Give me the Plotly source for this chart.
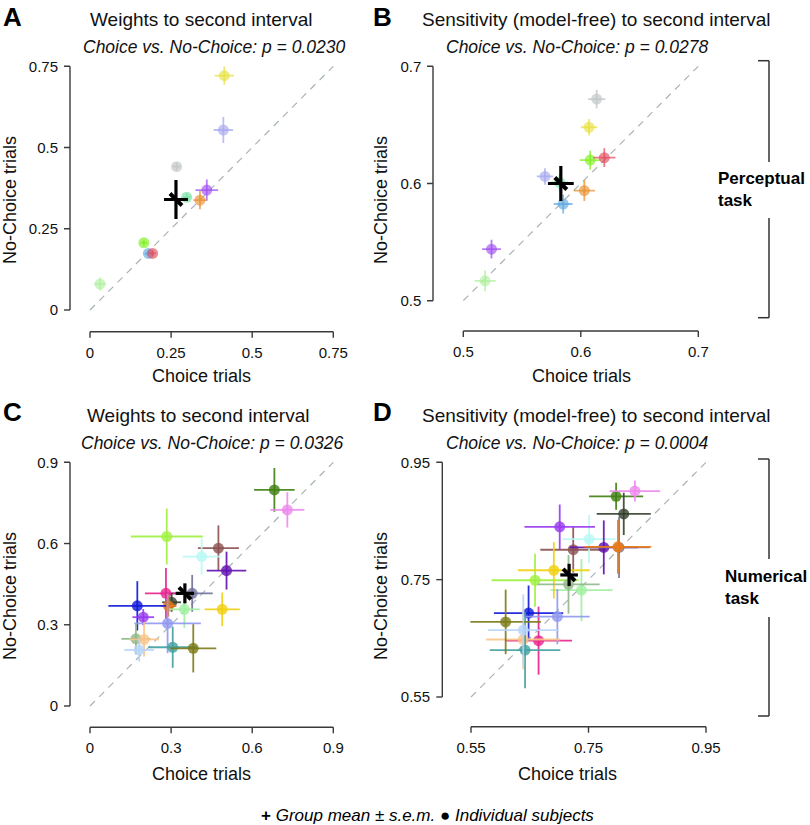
import plotly.graph_objects as go

W, H = 810, 825

# ---------------- DATA ----------------
# Perceptual task subjects (panels A and B)
perc_colors = ["#e8e040", "#a8a8f0", "#c0c4c4", "#70e0a0", "#a050f0",
               "#e89030", "#80f020", "#60a8e0", "#e05060", "#b0f0a0"]

a_choice = [0.414, 0.411, 0.267, 0.298, 0.360, 0.339, 0.166, 0.180, 0.193, 0.031]
a_nochoice = [0.721, 0.554, 0.441, 0.347, 0.369, 0.338, 0.207, 0.174, 0.174, 0.080]
a_choice_err = [0.030, 0.030, 0.012, 0.012, 0.035, 0.020, 0.010, 0.010, 0.010, 0.018]
a_nochoice_err = [0.028, 0.040, 0.012, 0.012, 0.033, 0.028, 0.010, 0.010, 0.010, 0.020]
a_mean = (0.265, 0.340)
a_mean_err = (0.037, 0.060)

b_choice = [0.607, 0.5695, 0.6135, 0.582, 0.524, 0.603, 0.608, 0.585, 0.620, 0.5185]
b_nochoice = [0.648, 0.606, 0.672, 0.601, 0.544, 0.594, 0.620, 0.5825, 0.622, 0.517]
b_choice_err = [0.007, 0.007, 0.0075, 0.007, 0.008, 0.009, 0.009, 0.008, 0.0095, 0.009]
b_nochoice_err = [0.007, 0.007, 0.008, 0.007, 0.008, 0.009, 0.008, 0.008, 0.008, 0.009]
b_mean = (0.583, 0.600)
b_mean_err = (0.011, 0.015)

# Numerical task subjects (panels C and D)
num_colors = ["#3f7f10", "#ee88ee", "#a0f040", "#8b5050", "#b8f8f4",
              "#6010b0", "#707098", "#e8208c", "#34402c", "#f07a10",
              "#1018d8", "#a0f0a0", "#f0d010", "#9838f0", "#9098f0",
              "#90b888", "#f8c488", "#40a0a0", "#7a7a18", "#b8d4f8"]

c_choice = [0.682, 0.730, 0.284, 0.475, 0.413, 0.505, 0.378, 0.281, 0.302, 0.290,
            0.175, 0.349, 0.489, 0.197, 0.287, 0.170, 0.200, 0.306, 0.382, 0.182]
c_nochoice = [0.798, 0.724, 0.626, 0.583, 0.552, 0.500, 0.416, 0.416, 0.383, 0.370,
              0.370, 0.357, 0.357, 0.328, 0.305, 0.248, 0.246, 0.217, 0.213, 0.207]
c_choice_err = [0.075, 0.063, 0.133, 0.076, 0.070, 0.073, 0.076, 0.078, 0.035, 0.030,
                0.107, 0.057, 0.065, 0.040, 0.123, 0.054, 0.055, 0.090, 0.085, 0.055]
c_nochoice_err = [0.081, 0.065, 0.103, 0.084, 0.066, 0.070, 0.068, 0.094, 0.035, 0.040,
                  0.091, 0.069, 0.062, 0.030, 0.110, 0.058, 0.063, 0.076, 0.089, 0.043]
c_mean = (0.351, 0.416)
c_mean_err = (0.034, 0.037)

d_choice = [0.797, 0.829, 0.659, 0.724, 0.751, 0.776, 0.802, 0.665, 0.810, 0.800,
            0.648, 0.738, 0.691, 0.701, 0.697, 0.716, 0.639, 0.642, 0.609, 0.639]
d_nochoice = [0.892, 0.901, 0.749, 0.801, 0.819, 0.805, 0.805, 0.646, 0.862, 0.806,
              0.693, 0.732, 0.766, 0.840, 0.687, 0.742, 0.648, 0.630, 0.678, 0.664]
d_choice_err = [0.046, 0.043, 0.074, 0.056, 0.045, 0.058, 0.052, 0.057, 0.046, 0.057,
                0.059, 0.053, 0.061, 0.060, 0.055, 0.053, 0.063, 0.060, 0.060, 0.060]
d_nochoice_err = [0.023, 0.018, 0.045, 0.039, 0.041, 0.046, 0.052, 0.058, 0.036, 0.046,
                  0.047, 0.053, 0.048, 0.038, 0.047, 0.050, 0.051, 0.065, 0.055, 0.061]
d_mean = (0.717, 0.758)
d_mean_err = (0.015, 0.019)

titles = ["Weights to second interval",
          "Sensitivity (model-free) to second interval",
          "Weights to second interval",
          "Sensitivity (model-free) to second interval"]
pvalues = ["0.0230", "0.0278", "0.0326", "0.0004"]
letters = ["A", "B", "C", "D"]

a_ticks = [0, 0.25, 0.5, 0.75]
a_ticklabels = ["0", "0.25", "0.5", "0.75"]
b_ticks = [0.5, 0.6, 0.7]
b_ticklabels = ["0.5", "0.6", "0.7"]
c_ticks = [0, 0.3, 0.6, 0.9]
c_ticklabels = ["0", "0.3", "0.6", "0.9"]
d_ticks = [0.55, 0.75, 0.95]
d_ticklabels = ["0.55", "0.75", "0.95"]

# ---------------- LAYOUT GEOMETRY (pixels) ----------------
FONT = "Liberation Sans, Arial, Helvetica, sans-serif"
panels = [
    dict(px=(90, 333.3), py=(66.3, 310), xline=331.7, yline=70,
         data=(a_choice, a_nochoice, a_choice_err, a_nochoice_err, perc_colors, a_mean, a_mean_err, 0.65),
         ticks=(a_ticks, a_ticklabels)),
    dict(px=(463.3, 698.3), py=(66.3, 300.7), xline=331, yline=433,
         data=(b_choice, b_nochoice, b_choice_err, b_nochoice_err, perc_colors, b_mean, b_mean_err, 0.65),
         ticks=(b_ticks, b_ticklabels)),
    dict(px=(90, 333.3), py=(462.3, 706), xline=727.3, yline=70,
         data=(c_choice, c_nochoice, c_choice_err, c_nochoice_err, num_colors, c_mean, c_mean_err, 0.8),
         ticks=(c_ticks, c_ticklabels)),
    dict(px=(471, 706), py=(462.3, 697), xline=726.7, yline=442.3,
         data=(d_choice, d_nochoice, d_choice_err, d_nochoice_err, num_colors, d_mean, d_mean_err, 0.8),
         ticks=(d_ticks, d_ticklabels)),
]
EXT = 2.0  # px of extra room at both ends of each axis so end ticks are not clipped


def fx(px):
    return px / W


def fy(py):
    return 1 - py / H


def rgba(hexc, a):
    hexc = hexc.lstrip("#")
    r, g, b = int(hexc[0:2], 16), int(hexc[2:4], 16), int(hexc[4:6], 16)
    return f"rgba({r},{g},{b},{a})"


def key(letter, n):
    return f"{letter}axis" if n == 1 else f"{letter}axis{n}"


def ref(letter, n):
    return letter if n == 1 else f"{letter}{n}"


fig = go.Figure()
layout = dict(width=W, height=H, margin=dict(l=0, r=0, t=0, b=0, pad=0, autoexpand=False),
              paper_bgcolor="white", plot_bgcolor="rgba(0,0,0,0)", showlegend=False,
              font=dict(family=FONT, size=15, color="#111"))

AXCOL = "#3a3a3a"
TICKLEN = 6
shapes = []
for i, p in enumerate(panels):
    n = i + 1
    xa, ya = ref("x", n), ref("y", n)
    tv, tt = p["ticks"]
    lo, hi = tv[0], tv[-1]
    dx = (hi - lo) * EXT / (p["px"][1] - p["px"][0])
    dy = (hi - lo) * EXT / (p["py"][1] - p["py"][0])
    x0p, x1p = p["px"][0] - EXT, p["px"][1] + EXT
    y0p, y1p = p["py"][0] - EXT, p["py"][1] + EXT
    xoff = p["xline"] - y1p   # distance of x-axis line below plot area
    yoff = x0p - p["yline"]   # distance of y-axis line left of plot area
    common = dict(tickvals=tv, ticktext=tt, showgrid=False, zeroline=False,
                  showline=False, ticks="", automargin=False,
                  tickfont=dict(family=FONT, size=15, color="#111"), fixedrange=True)
    layout[key("x", n)] = dict(domain=[fx(x0p), fx(x1p)], anchor=ya, range=[lo - dx, hi + dx],
                               ticklabelstandoff=int(round(xoff + TICKLEN + 4)), **common)
    layout[key("y", n)] = dict(domain=[fy(y1p), fy(y0p)], anchor=xa, range=[lo - dy, hi + dy],
                               ticklabelstandoff=int(round(yoff + TICKLEN + 5)), **common)

    # offset (R-style) axis lines and tick marks, placed along the axes' own scales
    lw = dict(color=AXCOL, width=1.4)
    yl = fy(p["xline"])
    xl = fx(p["yline"])
    shapes.append(dict(type="line", xref=xa, yref="paper", x0=lo, x1=hi, y0=yl, y1=yl, line=lw))
    shapes.append(dict(type="line", xref="paper", yref=ya, x0=xl, x1=xl, y0=lo, y1=hi, line=lw))
    for t in tv:
        shapes.append(dict(type="line", xref=xa, yref="paper", x0=t, x1=t,
                           y0=yl, y1=fy(p["xline"] + TICKLEN), line=lw))
        shapes.append(dict(type="line", xref="paper", yref=ya, y0=t, y1=t,
                           x0=xl, x1=fx(p["yline"] - TICKLEN), line=lw))

    fig.add_trace(go.Scatter(x=[lo, hi], y=[lo, hi], mode="lines", xaxis=xa, yaxis=ya,
                             line=dict(color="#a9b3b3", width=1.2, dash="7px,6px"),
                             hoverinfo="skip", cliponaxis=False))

    xs, ys, xe, ye, cols, mean, merr, alpha = p["data"]
    for j in range(len(xs)):
        c = cols[j]
        fig.add_trace(go.Scatter(
            x=[xs[j]], y=[ys[j]], mode="markers", xaxis=xa, yaxis=ya, cliponaxis=False,
            marker=dict(size=11, color=rgba(c, alpha), line=dict(width=0)),
            error_x=dict(type="data", array=[xe[j]], color=rgba(c, min(1, alpha + 0.1)),
                         thickness=1.8, width=0),
            error_y=dict(type="data", array=[ye[j]], color=rgba(c, min(1, alpha + 0.1)),
                         thickness=1.8, width=0)))
    fig.add_trace(go.Scatter(
        x=[mean[0]], y=[mean[1]], mode="markers", xaxis=xa, yaxis=ya, cliponaxis=False,
        marker=dict(symbol="line-nw", size=12, color="black", line=dict(width=4, color="black")),
        error_x=dict(type="data", array=[merr[0]], color="black", thickness=3.2, width=0),
        error_y=dict(type="data", array=[merr[1]], color="black", thickness=3.2, width=0)))

fig.update_layout(**layout)

annotations = []
letter_pos = [(12, 16.5), (382, 16.5), (12, 412), (382, 412)]
title_pos = [(201, 19), (596, 19), (198, 415), (596, 415)]
sub_pos = [(214, 47), (577, 47), (212, 443), (577, 443)]
for k in range(4):
    annotations.append(dict(x=fx(letter_pos[k][0]), y=fy(letter_pos[k][1]), xref="paper", yref="paper",
                            text=f"<b>{letters[k]}</b>", showarrow=False, xanchor="center", yanchor="middle",
                            font=dict(family=FONT, size=26, color="black")))
    annotations.append(dict(x=fx(title_pos[k][0]), y=fy(title_pos[k][1]), xref="paper", yref="paper",
                            text=titles[k], showarrow=False, xanchor="center", yanchor="middle",
                            font=dict(family=FONT, size=19, color="#111")))
    annotations.append(dict(x=fx(sub_pos[k][0]), y=fy(sub_pos[k][1]), xref="paper", yref="paper",
                            text=f"<i>Choice vs. No-Choice: p = {pvalues[k]}</i>", showarrow=False,
                            xanchor="center", yanchor="middle",
                            font=dict(family=FONT, size=17.5, color="#111")))

xt_pos = [(201, 376), (581, 376), (201, 774), (567, 774)]
yt_pos = [(10, 200), (381, 200), (10, 596), (381, 596)]
for k in range(4):
    annotations.append(dict(x=fx(xt_pos[k][0]), y=fy(xt_pos[k][1]), xref="paper", yref="paper",
                            text="Choice trials", showarrow=False, xanchor="center", yanchor="middle",
                            font=dict(family=FONT, size=18, color="#111")))
    annotations.append(dict(x=fx(yt_pos[k][0]), y=fy(yt_pos[k][1]), xref="paper", yref="paper",
                            text="No-Choice trials", showarrow=False, textangle=-90,
                            xanchor="center", yanchor="middle",
                            font=dict(family=FONT, size=18, color="#111")))

annotations.append(dict(x=fx(716), y=fy(189), xref="paper", yref="paper",
                        text="<b>Perceptual<br>task</b>", showarrow=False, xanchor="left", yanchor="middle",
                        align="left", font=dict(family=FONT, size=17, color="black")))
annotations.append(dict(x=fx(723), y=fy(587), xref="paper", yref="paper",
                        text="<b>Numerical<br>task</b>", showarrow=False, xanchor="left", yanchor="middle",
                        align="left", font=dict(family=FONT, size=17, color="black")))

annotations.append(dict(x=fx(428), y=fy(815), xref="paper", yref="paper",
                        text="<b>+</b> <i>Group mean ± s.e.m.</i> ● <i>Individual subjects</i>",
                        showarrow=False, xanchor="center", yanchor="middle",
                        font=dict(family=FONT, size=17, color="black")))

fig.update_layout(annotations=annotations)

BR = "#333"
for (top, gap0, gap1, bot) in [(60.7, 162, 218, 317.7), (459, 559, 617, 716)]:
    xb, xl = 769, 758
    shapes += [
        dict(type="line", xref="paper", yref="paper", x0=fx(xl), x1=fx(xb), y0=fy(top), y1=fy(top),
             line=dict(color=BR, width=1.5)),
        dict(type="line", xref="paper", yref="paper", x0=fx(xb), x1=fx(xb), y0=fy(top), y1=fy(gap0),
             line=dict(color=BR, width=1.5)),
        dict(type="line", xref="paper", yref="paper", x0=fx(xb), x1=fx(xb), y0=fy(gap1), y1=fy(bot),
             line=dict(color=BR, width=1.5)),
        dict(type="line", xref="paper", yref="paper", x0=fx(xl), x1=fx(xb), y0=fy(bot), y1=fy(bot),
             line=dict(color=BR, width=1.5)),
    ]
fig.update_layout(shapes=shapes)

fig.write_html("out.html", config={"displayModeBar": False},
               post_script="document.body.style.margin='0';document.body.style.overflow='hidden';")
